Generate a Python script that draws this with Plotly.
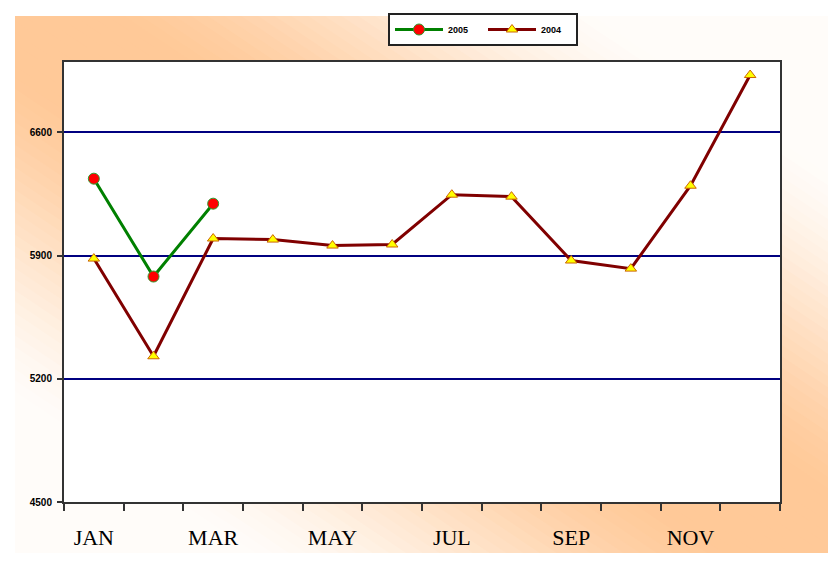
import plotly.graph_objects as go

months = ['JAN', 'FEB', 'MAR', 'APR', 'MAY', 'JUN', 'JUL', 'AUG', 'SEP', 'OCT', 'NOV', 'DEC']
month_labels = ['JAN', '', 'MAR', '', 'MAY', '', 'JUL', '', 'SEP', '', 'NOV', '']
months_2005 = ['JAN', 'FEB', 'MAR']
values_2005 = [6337, 5781, 6195]
values_2004 = [5883, 5328, 5997, 5991, 5957, 5963, 6246, 6235, 5872, 5826, 6297, 6926]
y_ticks = [4500, 5200, 5900, 6600]

# the page body adds an 8px offset, so the figure covers screen 8..836 x 8..561
SW, SH = 836, 561
OFF = 8
W, H = SW - OFF, SH - OFF


def px(x):
    return (x - OFF) / W


def py(y):
    return 1 - (y - OFF) / H


fig = go.Figure()
fig.add_trace(go.Scatter(
    x=months_2005, y=values_2005, name='2005', mode='lines+markers',
    line=dict(color='#008000', width=3),
    marker=dict(symbol='circle', size=11, color='#FF0000', line=dict(color='#2E9B2E', width=1)),
))
fig.add_trace(go.Scatter(
    x=months, y=values_2004, name='2004', mode='lines+markers',
    line=dict(color='#800000', width=3),
    marker=dict(symbol='triangle-up', size=10, color='#FFFF00', line=dict(color='#CC6600', width=1)),
))


def col(t):
    a = (0.68 - abs(t)) / 0.56
    a = max(0.0, min(1.0, a))
    a = 0.5 * a + 0.5 * a * a * (3 - 2 * a)
    c0 = (255, 252, 249)
    c1 = (255, 201, 152)
    return 'rgb(%d,%d,%d)' % tuple(round(c0[i] + (c1[i] - c0[i]) * a) for i in range(3))


shapes = []
N = 120
for k in range(N):
    t0 = -1.2 + 2.4 * k / N
    t1 = -1.2 + 2.4 * (k + 1) / N + 0.002
    tm = (t0 + t1) / 2
    pts = [(t0 - 0.1, -0.1), (t1 - 0.1, -0.1), (t1 + 1.1, 1.1), (t0 + 1.1, 1.1)]
    path = 'M ' + ' L '.join('%f,%f' % (px(u * SW), py(v * SH)) for u, v in pts) + ' Z'
    shapes.append(dict(type='path', xref='paper', yref='paper', path=path,
                       fillcolor=col(tm), line=dict(width=0), layer='below'))


def rect(x0, y0, x1, y1, c):
    return dict(type='rect', xref='paper', yref='paper',
                x0=px(x0), x1=px(x1), y0=py(y1), y1=py(y0),
                fillcolor=c, line=dict(width=0), layer='below')


shapes.append(rect(0, 0, SW, 16, 'white'))
shapes.append(rect(0, 0, 15, SH, 'white'))
shapes.append(rect(0, 553, SW, SH + 2, 'white'))
shapes.append(rect(64, 62, 780, 502, 'white'))

fig.update_layout(
    width=W, height=H,
    margin=dict(l=0, r=0, t=0, b=0, autoexpand=False),
    paper_bgcolor='white',
    plot_bgcolor='white',
    shapes=shapes,
    showlegend=True,
    legend=dict(
        orientation='h', x=px(483), xanchor='center', y=py(13), yanchor='top',
        bgcolor='white', bordercolor='#222222', borderwidth=2,
        font=dict(family='Arial', size=9, color='black', weight='bold'),
        itemwidth=48, entrywidth=30, tracegroupgap=0,
    ),
    xaxis=dict(
        domain=[px(64), px(780)],
        type='category', categoryorder='array', categoryarray=months,
        tickmode='array', tickvals=months, ticktext=month_labels,
        tickson='boundaries', ticks='outside', ticklen=7, tickwidth=2, tickcolor='#333333',
        showline=True, linecolor='#333333', linewidth=2, mirror=True,
        showgrid=False, range=[-0.5, 11.5], tickangle=0, automargin=False,
        tickfont=dict(family='Liberation Serif', size=22, color='black'),
        ticklabelstandoff=15,
    ),
    yaxis=dict(
        domain=[py(502), py(62)],
        range=[4500, 7000],
        tickmode='array', tickvals=y_ticks,
        ticks='outside', ticklen=5, tickwidth=2, tickcolor='#333333',
        showline=True, linecolor='#333333', linewidth=2, mirror=True,
        showgrid=True, gridcolor='#000080', gridwidth=2, automargin=False,
        zeroline=False, ticklabelstandoff=3,
        tickfont=dict(family='Arial', size=10, color='black', weight='bold'),
    ),
)

fig.write_html('out.html')
